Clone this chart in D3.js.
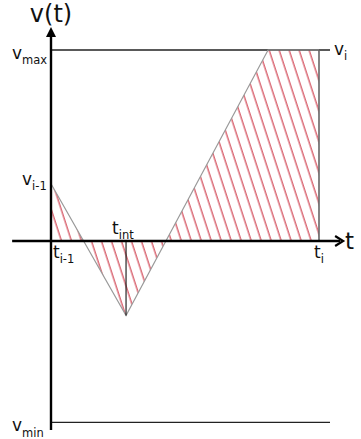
<!DOCTYPE html>
<html>
<head>
<meta charset="utf-8">
<script src="https://cdn.jsdelivr.net/npm/d3@7"></script>
<style>
  html, body { margin: 0; padding: 0; background: #fff; }
  svg { display: block; }
  text { font-family: "DejaVu Sans", sans-serif; fill: #111; }
</style>
</head>
<body>
<div id="chart"></div>
<script>
// --- data ---
const tKnots = [0, 2.8, 8.1, 10];      // t_{i-1}, t_int, reach v_max, t_i
const vKnots = [3.0, -3.9, 10, 10];    // v_{i-1}, v(t_int), v_max, v_i
const tMarks = [
  { name: "t", sub: "i-1", t: 0 },
  { name: "t", sub: "int", t: 2.8 },
  { name: "t", sub: "i", t: 10 }
];
const vLevels = [
  { name: "v", sub: "max", v: 10 },
  { name: "v", sub: "min", v: -9.5 }
];
const vStart = { name: "v", sub: "i-1", v: 3.0 };
const vEnd = { name: "v", sub: "i", v: 10 };
const tAxisRange = [-1.45, 10.9];
const vAxisRange = [-9.9, 11.2];

const W = 361, H = 439;
const x = d3.scaleLinear().domain([0, 10]).range([51, 319]);
const y = d3.scaleLinear().domain([0, 10]).range([241, 50]);

const svg = d3.select("#chart").append("svg")
  .attr("width", W).attr("height", H);

const curve = tKnots.map((t, i) => [t, vKnots[i]]);

// hatch pattern
const defs = svg.append("defs");
defs.append("pattern")
  .attr("id", "hatch")
  .attr("patternUnits", "userSpaceOnUse")
  .attr("width", 9.5).attr("height", 20)
  .attr("patternTransform", "rotate(-18)")
  .append("line")
  .attr("x1", 3).attr("x2", 3).attr("y1", 0).attr("y2", 20)
  .attr("stroke", "#cc3344").attr("stroke-width", 1.1);

// hatched area between curve and t axis
const area = d3.area()
  .x(d => x(d[0]))
  .y0(y(0))
  .y1(d => y(d[1]));
svg.append("path")
  .datum(curve)
  .attr("d", area)
  .attr("fill", "url(#hatch)");

// v_max / v_min levels
svg.selectAll(".level").data(vLevels).enter().append("line")
  .attr("x1", x(0)).attr("x2", x(10) + 11)
  .attr("y1", d => y(d.v)).attr("y2", d => y(d.v))
  .attr("stroke", "#222").attr("stroke-width", 1.3);

// curve
const line = d3.line().x(d => x(d[0])).y(d => y(d[1]));
svg.append("path")
  .datum(curve)
  .attr("d", line)
  .attr("fill", "none")
  .attr("stroke", "#999").attr("stroke-width", 1.2);

// vertical at t_i
svg.append("line")
  .attr("x1", x(10)).attr("x2", x(10))
  .attr("y1", y(0)).attr("y2", y(vEnd.v))
  .attr("stroke", "#666").attr("stroke-width", 1.6);

// vertical at t_int
const vInt = vKnots[1];
svg.append("line")
  .attr("x1", x(tMarks[1].t)).attr("x2", x(tMarks[1].t))
  .attr("y1", y(0)).attr("y2", y(vInt))
  .attr("stroke", "#111").attr("stroke-width", 1.1);

// axes
svg.append("line")
  .attr("x1", x(tAxisRange[0])).attr("x2", x(tAxisRange[1]) - 3)
  .attr("y1", y(0)).attr("y2", y(0))
  .attr("stroke", "#000").attr("stroke-width", 2.4);
const ax = x(tAxisRange[1]), ay = y(0);
svg.append("path")
  .attr("d", `M${ax - 8},${ay - 5} L${ax},${ay} L${ax - 8},${ay + 5}`)
  .attr("fill", "none").attr("stroke", "#000").attr("stroke-width", 2.2)
  .attr("stroke-linejoin", "miter");

svg.append("line")
  .attr("x1", x(0)).attr("x2", x(0))
  .attr("y1", y(vAxisRange[0])).attr("y2", y(vAxisRange[1]) + 6)
  .attr("stroke", "#000").attr("stroke-width", 2.4);
const yx = x(0), yy = y(vAxisRange[1]);
svg.append("path")
  .attr("d", `M${yx},${yy} L${yx + 5},${yy + 10} L${yx - 5},${yy + 10} Z`)
  .attr("fill", "#000");

// labels
function label(px, py, name, sub, size, subSize, anchor) {
  const t = svg.append("text")
    .attr("x", px).attr("y", py)
    .attr("text-anchor", anchor || "start")
    .style("font-size", size + "px");
  t.append("tspan").text(name);
  if (sub) {
    t.append("tspan").attr("dy", size * 0.32).style("font-size", subSize + "px").text(sub);
  }
  return t;
}

label(x(0), 22, "v(t)", null, 24, 0, "middle");
label(x(tAxisRange[1]) + 2, y(0) + 8, "t", null, 23, 0, "start");

vLevels.forEach(d => label(12, y(d.v) + 9, d.name, d.sub, 17, 11.5, "start"));
label(22, y(vStart.v) + 1, vStart.name, vStart.sub, 17, 11.5, "start");
label(x(10) + 15, y(vEnd.v) + 5, vEnd.name, vEnd.sub, 17, 11.5, "start");

label(x(tMarks[0].t) + 2, y(0) + 17, tMarks[0].name, tMarks[0].sub, 17, 11.5, "start");
label(x(tMarks[1].t) - 14, y(0) - 7, tMarks[1].name, tMarks[1].sub, 17, 11.5, "start");
label(x(tMarks[2].t) - 5, y(0) + 17, tMarks[2].name, tMarks[2].sub, 17, 11.5, "start");
</script>
</body>
</html>
